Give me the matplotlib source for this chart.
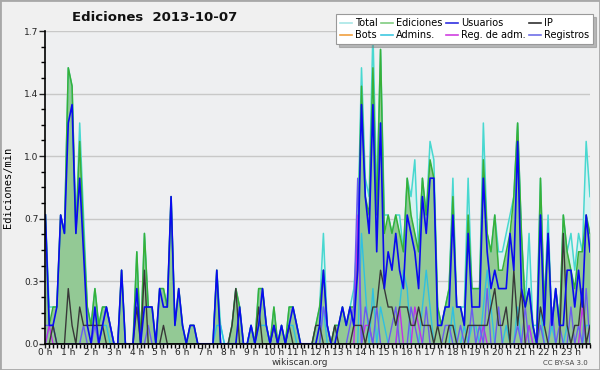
import numpy as np
import matplotlib
matplotlib.use("Agg")
import matplotlib.pyplot as plt
from matplotlib.lines import Line2D
from matplotlib.patches import Rectangle
from matplotlib.ticker import FixedLocator, MultipleLocator, AutoMinorLocator

# edits per minute, one value per 10-minute slot (6 per hour, 0 h .. 23 h)
total = [
    0.7, 0.2, 0.2, 0.2, 0.7, 0.6,
    1.5, 1.4, 0.6, 1.2, 0.7, 0.2,
    0.1, 0.3, 0.1, 0.2, 0.2, 0.1,
    0.0, 0.0, 0.4, 0.0, 0.0, 0.0,
    0.5, 0.0, 0.6, 0.2, 0.2, 0.0,
    0.3, 0.3, 0.2, 0.8, 0.1, 0.3,
    0.1, 0.0, 0.1, 0.1, 0.0, 0.0,
    0.0, 0.0, 0.0, 0.4, 0.1, 0.0,
    0.0, 0.1, 0.3, 0.2, 0.0, 0.0,
    0.1, 0.0, 0.3, 0.3, 0.1, 0.0,
    0.2, 0.0, 0.1, 0.0, 0.2, 0.2,
    0.1, 0.0, 0.0, 0.0, 0.0, 0.1,
    0.2, 0.6, 0.1, 0.0, 0.1, 0.1,
    0.2, 0.1, 0.2, 0.3, 0.6, 1.5,
    0.9, 0.8, 1.7, 0.8, 1.6, 0.7,
    0.7, 0.6, 0.7, 0.7, 0.5, 0.9,
    0.8, 1.0, 0.5, 0.9, 0.7, 1.1,
    1.0, 0.2, 0.1, 0.2, 0.3, 0.9,
    0.2, 0.2, 0.2, 0.9, 0.3, 0.3,
    0.3, 1.2, 0.6, 0.5, 0.7, 0.5,
    0.5, 0.6, 0.7, 0.8, 1.2, 0.6,
    0.2, 0.6, 0.1, 0.1, 0.9, 0.2,
    0.7, 0.1, 0.3, 0.1, 0.7, 0.5,
    0.6, 0.4, 0.6, 0.5, 1.1, 0.8,
]
ediciones = [
    0.7, 0.1, 0.2, 0.2, 0.7, 0.6,
    1.5, 1.4, 0.6, 1.1, 0.6, 0.2,
    0.1, 0.3, 0.1, 0.2, 0.2, 0.1,
    0.0, 0.0, 0.4, 0.0, 0.0, 0.0,
    0.5, 0.0, 0.6, 0.2, 0.2, 0.0,
    0.3, 0.3, 0.2, 0.8, 0.1, 0.3,
    0.1, 0.0, 0.1, 0.1, 0.0, 0.0,
    0.0, 0.0, 0.0, 0.4, 0.0, 0.0,
    0.0, 0.1, 0.3, 0.2, 0.0, 0.0,
    0.1, 0.0, 0.3, 0.3, 0.1, 0.0,
    0.2, 0.0, 0.1, 0.0, 0.2, 0.2,
    0.1, 0.0, 0.0, 0.0, 0.0, 0.1,
    0.2, 0.4, 0.1, 0.0, 0.1, 0.1,
    0.2, 0.1, 0.2, 0.2, 0.5, 1.4,
    0.8, 0.7, 1.5, 0.7, 1.6, 0.6,
    0.7, 0.6, 0.7, 0.6, 0.5, 0.9,
    0.7, 0.6, 0.5, 0.9, 0.7, 1.0,
    0.9, 0.2, 0.1, 0.2, 0.3, 0.8,
    0.2, 0.2, 0.1, 0.7, 0.3, 0.3,
    0.3, 1.0, 0.6, 0.5, 0.7, 0.4,
    0.4, 0.5, 0.6, 0.8, 1.2, 0.6,
    0.2, 0.3, 0.1, 0.0, 0.9, 0.2,
    0.6, 0.1, 0.3, 0.1, 0.7, 0.5,
    0.4, 0.3, 0.5, 0.5, 0.7, 0.6,
]
usuarios = [
    0.7, 0.1, 0.1, 0.2, 0.7, 0.6,
    1.2, 1.3, 0.6, 0.9, 0.5, 0.1,
    0.0, 0.2, 0.0, 0.1, 0.2, 0.1,
    0.0, 0.0, 0.4, 0.0, 0.0, 0.0,
    0.3, 0.0, 0.2, 0.2, 0.2, 0.0,
    0.3, 0.2, 0.2, 0.8, 0.1, 0.3,
    0.1, 0.0, 0.1, 0.1, 0.0, 0.0,
    0.0, 0.0, 0.0, 0.4, 0.0, 0.0,
    0.0, 0.0, 0.0, 0.2, 0.0, 0.0,
    0.1, 0.0, 0.1, 0.3, 0.1, 0.0,
    0.1, 0.0, 0.1, 0.0, 0.1, 0.2,
    0.1, 0.0, 0.0, 0.0, 0.0, 0.0,
    0.1, 0.4, 0.1, 0.0, 0.0, 0.1,
    0.2, 0.1, 0.2, 0.1, 0.4, 1.3,
    0.8, 0.6, 1.3, 0.5, 1.2, 0.3,
    0.5, 0.4, 0.6, 0.4, 0.3, 0.7,
    0.6, 0.5, 0.3, 0.8, 0.6, 0.9,
    0.9, 0.1, 0.1, 0.2, 0.2, 0.7,
    0.2, 0.2, 0.1, 0.6, 0.2, 0.2,
    0.2, 0.9, 0.5, 0.3, 0.4, 0.3,
    0.3, 0.3, 0.6, 0.4, 1.1, 0.3,
    0.2, 0.3, 0.1, 0.0, 0.7, 0.1,
    0.6, 0.1, 0.3, 0.1, 0.1, 0.4,
    0.4, 0.2, 0.4, 0.2, 0.7, 0.5,
]
ip = [
    0.0, 0.0, 0.1, 0.0, 0.0, 0.0,
    0.3, 0.1, 0.0, 0.2, 0.1, 0.1,
    0.1, 0.1, 0.1, 0.1, 0.0, 0.0,
    0.0, 0.0, 0.0, 0.0, 0.0, 0.0,
    0.2, 0.0, 0.4, 0.0, 0.0, 0.0,
    0.0, 0.1, 0.0, 0.0, 0.0, 0.0,
    0.0, 0.0, 0.0, 0.0, 0.0, 0.0,
    0.0, 0.0, 0.0, 0.0, 0.0, 0.0,
    0.0, 0.1, 0.3, 0.0, 0.0, 0.0,
    0.0, 0.0, 0.2, 0.0, 0.0, 0.0,
    0.1, 0.0, 0.0, 0.0, 0.1, 0.0,
    0.0, 0.0, 0.0, 0.0, 0.0, 0.1,
    0.1, 0.0, 0.0, 0.0, 0.1, 0.0,
    0.0, 0.0, 0.0, 0.1, 0.1, 0.1,
    0.0, 0.1, 0.2, 0.2, 0.4, 0.3,
    0.2, 0.2, 0.1, 0.2, 0.2, 0.2,
    0.1, 0.1, 0.2, 0.1, 0.1, 0.1,
    0.0, 0.1, 0.0, 0.0, 0.1, 0.1,
    0.0, 0.0, 0.0, 0.1, 0.1, 0.1,
    0.1, 0.1, 0.1, 0.2, 0.3, 0.1,
    0.1, 0.2, 0.0, 0.4, 0.1, 0.3,
    0.0, 0.0, 0.0, 0.0, 0.2, 0.1,
    0.0, 0.0, 0.0, 0.0, 0.6, 0.1,
    0.0, 0.1, 0.1, 0.3, 0.0, 0.1,
]
admins = [
    0.0, 0.1, 0.1, 0.0, 0.0, 0.0,
    0.0, 0.0, 0.0, 0.0, 0.0, 0.0,
    0.0, 0.0, 0.0, 0.1, 0.1, 0.0,
    0.0, 0.0, 0.0, 0.0, 0.0, 0.0,
    0.0, 0.0, 0.0, 0.0, 0.0, 0.0,
    0.0, 0.0, 0.0, 0.0, 0.0, 0.0,
    0.0, 0.0, 0.0, 0.0, 0.0, 0.0,
    0.0, 0.0, 0.0, 0.1, 0.1, 0.0,
    0.0, 0.0, 0.0, 0.0, 0.0, 0.0,
    0.1, 0.0, 0.1, 0.1, 0.1, 0.0,
    0.0, 0.0, 0.0, 0.0, 0.1, 0.1,
    0.0, 0.0, 0.0, 0.0, 0.0, 0.0,
    0.0, 0.2, 0.0, 0.0, 0.0, 0.0,
    0.0, 0.0, 0.0, 0.0, 0.0, 0.6,
    0.3, 0.0, 0.3, 0.0, 0.2, 0.1,
    0.0, 0.0, 0.0, 0.2, 0.4, 0.3,
    0.0, 0.0, 0.0, 0.2, 0.4, 0.2,
    0.0, 0.0, 0.0, 0.0, 0.0, 0.2,
    0.0, 0.0, 0.1, 0.0, 0.1, 0.1,
    0.0, 0.2, 0.4, 0.2, 0.0, 0.0,
    0.0, 0.1, 0.0, 0.0, 0.2, 0.0,
    0.0, 0.1, 0.0, 0.0, 0.2, 0.0,
    0.0, 0.1, 0.0, 0.0, 0.0, 0.1,
    0.0, 0.0, 0.0, 0.0, 0.1, 0.1,
]
reg_adm = [
    0.0, 0.1, 0.0, 0.0, 0.0, 0.0,
    0.0, 0.0, 0.0, 0.0, 0.0, 0.0,
    0.0, 0.0, 0.0, 0.0, 0.0, 0.0,
    0.0, 0.0, 0.0, 0.0, 0.0, 0.0,
    0.0, 0.0, 0.0, 0.0, 0.0, 0.0,
    0.0, 0.0, 0.0, 0.0, 0.0, 0.0,
    0.0, 0.0, 0.0, 0.0, 0.0, 0.0,
    0.0, 0.0, 0.0, 0.0, 0.0, 0.0,
    0.0, 0.0, 0.0, 0.0, 0.0, 0.0,
    0.0, 0.0, 0.0, 0.0, 0.0, 0.0,
    0.0, 0.0, 0.0, 0.0, 0.0, 0.0,
    0.0, 0.0, 0.0, 0.0, 0.0, 0.0,
    0.0, 0.0, 0.0, 0.0, 0.0, 0.0,
    0.0, 0.0, 0.0, 0.0, 0.7, 0.0,
    0.1, 0.1, 0.0, 0.0, 0.0, 0.0,
    0.0, 0.0, 0.0, 0.2, 0.0, 0.0,
    0.0, 0.2, 0.1, 0.0, 0.0, 0.0,
    0.0, 0.0, 0.0, 0.0, 0.0, 0.0,
    0.0, 0.0, 0.0, 0.0, 0.0, 0.0,
    0.0, 0.1, 0.0, 0.0, 0.0, 0.0,
    0.0, 0.0, 0.0, 0.0, 0.0, 0.0,
    0.0, 0.1, 0.0, 0.0, 0.0, 0.0,
    0.0, 0.0, 0.0, 0.0, 0.0, 0.0,
    0.0, 0.0, 0.0, 0.2, 0.0, 0.0,
]
registros = [
    0.1, 0.1, 0.1, 0.0, 0.0, 0.0,
    0.0, 0.0, 0.0, 0.0, 0.1, 0.0,
    0.0, 0.1, 0.0, 0.1, 0.2, 0.1,
    0.0, 0.0, 0.0, 0.0, 0.0, 0.0,
    0.0, 0.0, 0.0, 0.1, 0.0, 0.0,
    0.0, 0.0, 0.0, 0.0, 0.0, 0.0,
    0.0, 0.0, 0.0, 0.0, 0.0, 0.0,
    0.0, 0.0, 0.0, 0.0, 0.0, 0.0,
    0.0, 0.0, 0.0, 0.0, 0.0, 0.0,
    0.0, 0.0, 0.0, 0.0, 0.0, 0.0,
    0.0, 0.0, 0.0, 0.0, 0.0, 0.0,
    0.0, 0.0, 0.0, 0.0, 0.0, 0.0,
    0.0, 0.2, 0.1, 0.0, 0.0, 0.0,
    0.0, 0.0, 0.1, 0.2, 0.9, 0.0,
    0.2, 0.1, 0.0, 0.2, 0.0, 0.0,
    0.0, 0.1, 0.2, 0.0, 0.0, 0.0,
    0.2, 0.1, 0.0, 0.0, 0.2, 0.0,
    0.0, 0.0, 0.0, 0.1, 0.1, 0.0,
    0.0, 0.1, 0.0, 0.0, 0.2, 0.0,
    0.1, 0.0, 0.3, 0.0, 0.0, 0.2,
    0.0, 0.0, 0.0, 0.0, 0.1, 0.0,
    0.2, 0.0, 0.0, 0.0, 0.1, 0.0,
    0.0, 0.2, 0.0, 0.1, 0.0, 0.0,
    0.2, 0.0, 0.1, 0.0, 0.3, 0.0,
]
bots = [0.0] * 144

hour_labels = ["%d h" % h for h in range(24)]
legend_labels = ["Total", "Bots", "Ediciones", "Admins.",
                 "Usuarios", "Reg. de adm.", "IP", "Registros"]
legend_colors = ["#a8e6e6", "#f0a040", "#80cc80", "#40c8e0",
                 "#3030e0", "#d040e0", "#303030", "#7070e8"]

slots = np.arange(len(total))

fig = plt.figure(figsize=(6, 3.7), dpi=100, facecolor="#f0f0f0")
fig.patches.append(Rectangle((0, 0), 1, 1, transform=fig.transFigure,
                             fill=False, edgecolor="#a8a8a8", linewidth=2))
ax = fig.add_axes([0.0757, 0.0708, 0.9076, 0.8454])
ax.set_facecolor("#eeeff1")

# filled areas first, then the lines
ax.fill_between(slots, total, color="#d6f2f2", linewidth=0, zorder=1)
ax.fill_between(slots, ediciones, color="#93c995", linewidth=0, zorder=2)
ax.plot(slots, total, color="#48d8d0", lw=1.1, zorder=3)
ax.plot(slots, ediciones, color="#38b038", lw=1.1, zorder=4)
ax.plot(slots, bots, color="#f0a040", lw=1.0, zorder=4)
ax.plot(slots, admins, color="#30c0e0", lw=1.0, zorder=5)
ax.plot(slots, reg_adm, color="#c030e8", lw=1.0, zorder=5)
ax.plot(slots, registros, color="#6a5cf0", lw=1.0, zorder=5)
ax.plot(slots, ip, color="#383838", lw=1.0, zorder=6)
ax.plot(slots, usuarios, color="#0a0af0", lw=1.2, zorder=7)

ax.set_xlim(0, len(total) - 1)
ax.set_ylim(0, 1.7)

yt = np.linspace(0, 1.7, 6)
ax.yaxis.set_major_locator(FixedLocator(yt))
ax.set_yticklabels(["%.1f" % v for v in yt])
ax.yaxis.set_minor_locator(AutoMinorLocator(4))
ax.set_xticks(np.arange(0, 144, 6))
ax.set_xticklabels(hour_labels)
ax.xaxis.set_minor_locator(MultipleLocator(1))

ax.tick_params(axis="both", which="major", labelsize=6.5, colors="#222222",
               length=4, width=1, pad=1)
ax.tick_params(axis="x", which="major", length=3, pad=0)
ax.tick_params(axis="both", which="minor", length=3, width=1)
ax.grid(axis="y", color="#c8c8c8", linewidth=1, zorder=0)
ax.set_axisbelow(True)
for side in ["top", "right"]:
    ax.spines[side].set_visible(False)
for side in ["left", "bottom"]:
    ax.spines[side].set_linewidth(1.2)
    ax.spines[side].set_zorder(10)

ax.set_ylabel("Ediciones/min", family="DejaVu Sans Mono", fontsize=7.5,
              labelpad=8)

fig.text(0.258, 0.953, "Ediciones  2013-10-07", ha="center", va="center",
         fontsize=9.5, fontweight="bold", color="#111111")
fig.text(0.5, 0.02, "wikiscan.org", ha="center", va="center",
         fontsize=6.5, color="#333333")
fig.text(0.943, 0.02, "CC BY-SA 3.0", ha="center", va="center",
         fontsize=5, color="#444444")

handles = [Line2D([], [], color=c, lw=1.2) for c in legend_colors]
leg = fig.legend(handles, legend_labels, ncol=4, loc="upper right",
                 bbox_to_anchor=(0.996, 0.975), fontsize=7,
                 handlelength=1.2, handletextpad=0.3, columnspacing=0.4,
                 labelspacing=0.25, borderpad=0.4, fancybox=False,
                 shadow={"color": "#808080"}, framealpha=1)
leg.get_frame().set_edgecolor("#999999")
leg.get_frame().set_linewidth(0.8)

fig.savefig("out.png", dpi=100, facecolor=fig.get_facecolor())
